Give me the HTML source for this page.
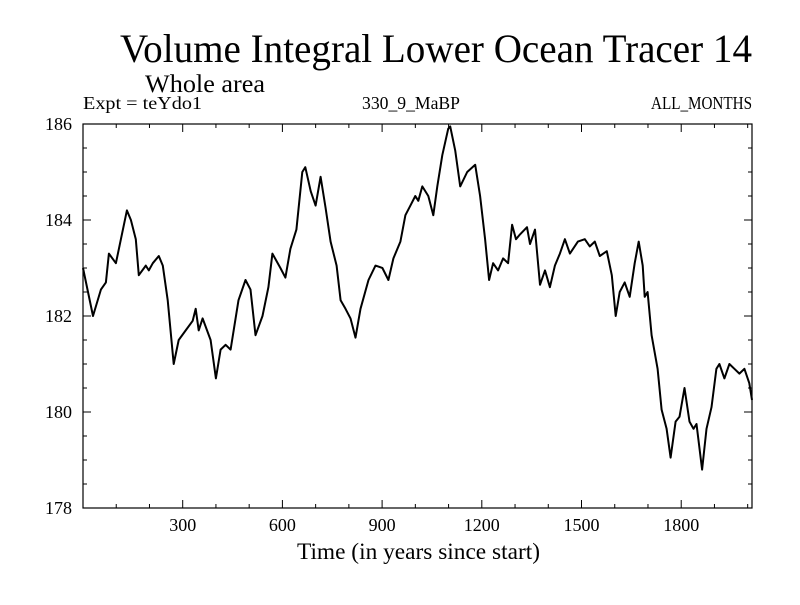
<!DOCTYPE html>
<html><head><meta charset="utf-8"><style>
body{margin:0;background:#fff}
svg text{font-family:"Liberation Serif",serif;fill:#000}
</style></head><body>
<svg id="chart" width="800" height="600" viewBox="0 0 800 600">
<rect width="800" height="600" fill="#fff"/>
<text x="120" y="62" font-size="40" textLength="632" lengthAdjust="spacingAndGlyphs">Volume Integral Lower Ocean Tracer 14</text>
<text x="145" y="92" font-size="25" textLength="120" lengthAdjust="spacingAndGlyphs">Whole area</text>
<text x="83" y="109" font-size="18" textLength="119" lengthAdjust="spacingAndGlyphs">Expt = teYdo1</text>
<text x="362" y="109" font-size="18" textLength="98" lengthAdjust="spacingAndGlyphs">330_9_MaBP</text>
<text x="651" y="109" font-size="18" textLength="101" lengthAdjust="spacingAndGlyphs">ALL_MONTHS</text>
<g id="axes"></g>
<path id="series" fill="none" stroke="#000" stroke-width="2" stroke-linejoin="round"/>
<rect x="83" y="124" width="669" height="384" fill="none" stroke="#000" stroke-width="1.2"/>
<text x="297" y="559" font-size="23" textLength="243" lengthAdjust="spacingAndGlyphs">Time (in years since start)</text>
</svg>
<script>
const years=[0,30,54,69,78,99,114,132,144,159,168,189,198,210,228,240,255,273,288,309,330,339,348,360,384,400,414,429,444,468,489,504,519,540,558,570,594,609,624,642,660,669,685,700,715,730,745,763,775,790,805,820,835,859,880,901,919,934,955,970,985,1000,1009,1021,1039,1054,1066,1081,1099,1105,1120,1135,1156,1180,1195,1210,1222,1234,1249,1264,1279,1291,1303,1315,1336,1345,1360,1375,1390,1405,1420,1435,1450,1465,1489,1510,1525,1540,1555,1576,1591,1603,1615,1630,1645,1660,1672,1684,1690,1699,1711,1729,1741,1756,1768,1783,1795,1810,1825,1837,1846,1863,1876,1891,1906,1915,1930,1945,1960,1975,1990,2005,2013];
const values=[183.0,182.0,182.55,182.7,183.3,183.1,183.6,184.2,184.0,183.6,182.85,183.05,182.95,183.1,183.25,183.05,182.33,181.0,181.5,181.7,181.9,182.15,181.7,181.95,181.5,180.7,181.3,181.4,181.3,182.33,182.75,182.55,181.6,182.0,182.6,183.3,183.0,182.8,183.4,183.8,185.0,185.1,184.6,184.3,184.9,184.25,183.55,183.05,182.33,182.15,181.95,181.55,182.15,182.75,183.05,183.0,182.75,183.2,183.55,184.1,184.3,184.5,184.4,184.7,184.5,184.1,184.7,185.35,185.9,185.95,185.45,184.7,185.0,185.15,184.5,183.6,182.75,183.1,182.95,183.2,183.1,183.9,183.6,183.7,183.85,183.5,183.8,182.65,182.95,182.6,183.05,183.3,183.6,183.3,183.55,183.6,183.45,183.55,183.25,183.35,182.85,182.0,182.5,182.7,182.4,183.1,183.55,183.05,182.4,182.5,181.6,180.9,180.05,179.65,179.05,179.8,179.9,180.5,179.8,179.65,179.75,178.8,179.65,180.1,180.9,181.0,180.7,181.0,180.9,180.8,180.9,180.6,180.25];
const xTicks=[300,600,900,1200,1500,1800];
const yTicks=[178,180,182,184,186];
const X0=83,X1=752,Y0=508,Y1=124,XMAX=2013,YMIN=178,YMAX=186;
const sx=v=>X0+v/XMAX*(X1-X0);
const sy=v=>Y0-(v-YMIN)/(YMAX-YMIN)*(Y0-Y1);
const ns='http://www.w3.org/2000/svg';
const ax=document.getElementById('axes');
function line(x1,y1,x2,y2,name){const l=document.createElementNS(ns,'line');
l.setAttribute('x1',x1);l.setAttribute('y1',y1);l.setAttribute('x2',x2);l.setAttribute('y2',y2);
l.setAttribute('stroke','#000');l.setAttribute('stroke-width','1');


ax.appendChild(l);}
function text(x,y,s,anchor,name){const t=document.createElementNS(ns,'text');
t.setAttribute('x',x);t.setAttribute('y',y);t.setAttribute('font-size','18');t.setAttribute('text-anchor',anchor);
t.setAttribute('textLength',String(s.length*9));t.setAttribute('lengthAdjust','spacingAndGlyphs');t.textContent=s;


ax.appendChild(t);}
for(let v=100;v<XMAX;v+=100){const x=sx(v);const L=(v%300===0)?8:4;
line(x,Y0,x,Y0-L,'x-tick');line(x,Y1,x,Y1+L,'x-tick-top');}
for(let v=178.5;v<186;v+=0.5){const y=sy(v);const L=(v%2===0)?8:4;
line(X0,y,X0+L,y,'y-tick');line(X1,y,X1-L,y,'y-tick-right');}
xTicks.forEach(v=>text(sx(v),531,String(v),'middle','x-tick-label'));
yTicks.forEach(v=>text(72,sy(v)+6,String(v),'end','y-tick-label'));
let d='';years.forEach((y,i)=>{d+=(i?'L':'M')+sx(y).toFixed(1)+','+sy(values[i]).toFixed(1);});
document.getElementById('series').setAttribute('d',d);
</script>
</body></html>
